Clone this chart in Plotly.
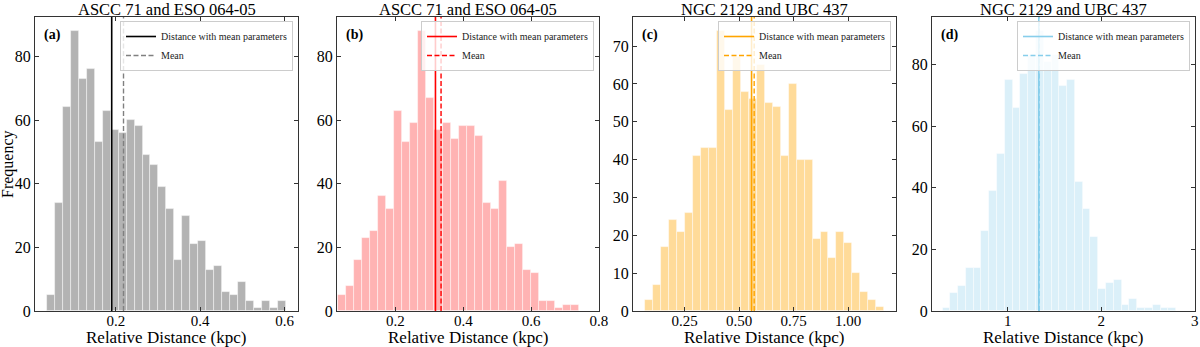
import numpy as np
import plotly.graph_objects as go

# ---------------- data ----------------
titles = ["ASCC 71 and ESO 064-05", "ASCC 71 and ESO 064-05",
          "NGC 2129 and UBC 437", "NGC 2129 and UBC 437"]
panel_tags = ["(a)", "(b)", "(c)", "(d)"]

counts_a = [5, 34, 64, 88, 73, 76, 53, 63, 57, 56, 60, 58, 49, 46, 39, 32, 16, 30,
            21, 22, 13, 14, 6, 5, 9, 3, 1, 3, 1, 3]
counts_b = [5, 8, 16, 23, 25, 36, 32, 63, 53, 59, 88, 67, 57, 59, 54, 58, 58, 55,
            34, 32, 41, 20, 21, 13, 12, 3, 3, 1, 2, 2]
counts_c = [3, 7, 17, 24, 21, 26, 41, 43, 43, 74, 53, 67, 58, 56, 65, 55, 54, 41,
            60, 40, 40, 19, 21, 14, 21, 18, 10, 5, 3, 1]
counts_d = [1, 6, 8, 14, 14, 26, 39, 51, 75, 66, 77, 83, 91, 81, 83, 73, 75, 42,
            33, 24, 7, 9, 10, 2, 4, 1, 1, 2, 1, 1]

# histogram bin range (kpc): first edge, last edge
bin_range_a = (0.0363, 0.6033)
bin_range_b = (0.0305, 0.742)
bin_range_c = (0.0703, 1.165)
bin_range_d = (0.303, 2.80)

# distance with mean parameters, and mean of distribution (kpc)
dist_mean_params = [0.190, 0.318, 0.557, 1.332]
dist_mean = [0.218, 0.3345, 0.569, 1.336]

x_ticks = [[0.2, 0.4, 0.6], [0.2, 0.4, 0.6, 0.8],
           [0.25, 0.50, 0.75, 1.00], [1, 2, 3]]
x_tick_text = [["0.2", "0.4", "0.6"], ["0.2", "0.4", "0.6", "0.8"],
               ["0.25", "0.50", "0.75", "1.00"], ["1", "2", "3"]]
y_ticks = [[0, 20, 40, 60, 80], [0, 20, 40, 60, 80],
           [0, 10, 20, 30, 40, 50, 60, 70], [0, 20, 40, 60, 80]]

# ---------------- style ----------------
x_ranges = [[0.008, 0.632], [0.0275, 0.8005], [0.0136, 1.219], [0.19, 3.002]]
y_ranges = [[0, 92.4], [0, 92.4], [0, 77.7], [0, 95.5]]
bar_colors = ["#b3b3b3", "#ffb3b3", "#ffdb99", "#dbf0f9"]
solid_colors = ["#000000", "#ff0000", "#ffa500", "#87ceeb"]
dash_colors = ["#808080", "#ff0000", "#ffa500", "#87ceeb"]

W, H = 1200, 347
ml, mr, mt, mb = 35, 5, 17, 36
pw = W - ml - mr
px_domains = [(35, 298), (337, 599), (633, 896), (932, 1195)]
domains = [[(a - ml) / pw, (b - ml) / pw] for a, b in px_domains]

FONT = "Liberation Serif, Times New Roman, serif"

fig = go.Figure()
all_counts = [counts_a, counts_b, counts_c, counts_d]
all_ranges = [bin_range_a, bin_range_b, bin_range_c, bin_range_d]

annotations = []
for i in range(4):
    n = len(all_counts[i])
    edges = np.linspace(all_ranges[i][0], all_ranges[i][1], n + 1)
    centers = (edges[:-1] + edges[1:]) / 2
    width = edges[1] - edges[0]
    xa = "x" if i == 0 else f"x{i+1}"
    ya = "y" if i == 0 else f"y{i+1}"
    lg = "legend" if i == 0 else f"legend{i+1}"
    fig.add_trace(go.Bar(
        x=centers, y=all_counts[i], width=width,
        marker=dict(color=bar_colors[i],
                    line=dict(color="rgba(255,255,255,0.55)", width=0.8)),
        xaxis=xa, yaxis=ya, showlegend=False, legend=lg,
    ))
    ytop = y_ranges[i][1]
    fig.add_trace(go.Scatter(
        x=[dist_mean_params[i]] * 2, y=[0, ytop], mode="lines",
        line=dict(color=solid_colors[i], width=1.6),
        name="Distance with mean parameters",
        xaxis=xa, yaxis=ya, legend=lg,
    ))
    fig.add_trace(go.Scatter(
        x=[dist_mean[i]] * 2, y=[0, ytop], mode="lines",
        line=dict(color=dash_colors[i], width=1.4, dash="5px,2.5px"),
        name="Mean",
        xaxis=xa, yaxis=ya, legend=lg,
    ))

    axis_common = dict(
        showline=True, linecolor="#333333", linewidth=1, mirror="ticks",
        ticks="inside", ticklen=4, tickwidth=1, tickcolor="#333333",
        showgrid=False, zeroline=False,
    )
    fig.update_layout(**{
        ("xaxis" if i == 0 else f"xaxis{i+1}"): dict(
            domain=domains[i], range=x_ranges[i], anchor=ya,
            tickvals=x_ticks[i], ticktext=x_tick_text[i],
            tickfont=dict(family=FONT, size=15, color="black"),
            ticklabelstandoff=-4, **axis_common),
        ("yaxis" if i == 0 else f"yaxis{i+1}"): dict(
            domain=[0, 1], range=y_ranges[i], anchor=xa,
            tickvals=y_ticks[i],
            tickfont=dict(family=FONT, size=16, color="black"),
            **axis_common),
        lg: dict(
            x=(px_domains[i][1] - 5 - ml) / pw, y=1 - 4 / (H - mt - mb),
            xanchor="right", yanchor="top",
            bgcolor="rgba(255,255,255,0.8)", bordercolor="#cccccc",
            borderwidth=1, font=dict(family=FONT, size=10, color="#222"),
            tracegroupgap=0, itemwidth=30,
        ),
    })
    xd = xa + " domain"
    yd = ya + " domain"
    annotations.append(dict(
        text=titles[i], xref=xd, yref=yd, x=0.5, y=1, xanchor="center",
        yanchor="bottom", showarrow=False, yshift=-4,
        font=dict(family=FONT, size=16.5, color="black")))
    annotations.append(dict(
        text="Relative Distance (kpc)", xref=xd, yref="paper", x=0.5, y=0,
        xanchor="center", yanchor="bottom", yshift=-mb - 2, showarrow=False,
        font=dict(family=FONT, size=17, color="black")))
    annotations.append(dict(
        text="<b>" + panel_tags[i] + "</b>", xref=xd, yref=yd, x=0.028, y=0.94,
        xanchor="left", yanchor="middle", showarrow=False,
        font=dict(family=FONT, size=14, color="black")))

annotations.append(dict(
    text="Frequency", xref="paper", yref="paper", x=-27 / pw, y=0.5,
    xanchor="center", yanchor="middle", textangle=-90, showarrow=False,
    font=dict(family=FONT, size=16, color="black")))

fig.update_layout(
    width=W, height=H,
    margin=dict(l=ml, r=mr, t=mt, b=mb, autoexpand=False),
    plot_bgcolor="white", paper_bgcolor="white",
    bargap=0, annotations=annotations,
)

fig.write_html(
    "out.html",
    config={"displayModeBar": False},
    post_script="document.body.style.margin='0';document.body.style.overflow='hidden';",
)
